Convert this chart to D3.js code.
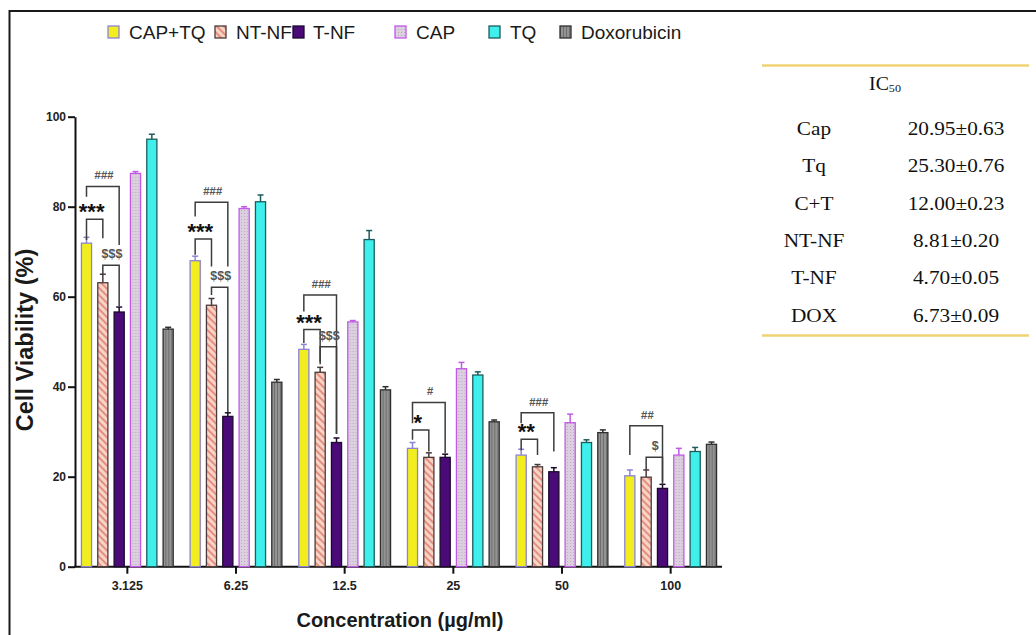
<!DOCTYPE html>
<html>
<head>
<meta charset="utf-8">
<script src="https://cdn.jsdelivr.net/npm/d3@7"></script>
<style>
  body { margin: 0; background: #fff; }
  svg { display: block; }
</style>
</head>
<body>
<script>
(() => {
  "use strict"

  // Data
  const concentrations = ['3.125', '6.25', '12.5', '25', '50', '100']
  const seriesNames = ['CAP+TQ', 'NT-NF', 'T-NF', 'CAP', 'TQ', 'Doxorubicin']

  const capTq  = [71.9, 68.0, 48.3, 26.3, 24.8, 20.2]
  const ntNf   = [63.1, 58.1, 43.2, 24.3, 22.2, 19.9]
  const tNf    = [56.6, 33.4, 27.6, 24.3, 21.1, 17.4]
  const cap    = [87.4, 79.6, 54.4, 44.0, 32.0, 24.8]
  const tq     = [95.0, 81.1, 72.7, 42.6, 27.6, 25.6]
  const dox    = [52.8, 41.0, 39.3, 32.2, 29.8, 27.2]

  const errCapTq = [1.3, 1.0, 1.1, 1.3, 1.3, 1.3]
  const errNtNf  = [1.9, 1.5, 1.1, 1.0, 0.5, 1.6]
  const errTNf   = [1.1, 0.8, 1.0, 0.7, 0.9, 0.9]
  const errCap   = [0.4, 0.4, 0.3, 1.4, 1.9, 1.5]
  const errTq    = [1.1, 1.5, 2.0, 0.7, 0.6, 0.9]
  const errDox   = [0.4, 0.6, 0.7, 0.4, 0.6, 0.5]

  const yTicks = [0, 20, 40, 60, 80, 100]

  // significance brackets: group, from series, to series, bracket top, left leg end, right leg end (all in % units)
  const brackets = [
    { g: 0, a: 0, b: 2, top: 84.5, l: 82.2, r: 71.5, label: '###' },
    { g: 0, a: 0, b: 1, top: 77.2, l: 72.6, r: 73.0, label: '***' },
    { g: 0, a: 1, b: 2, top: 67.0, l: 64.8, r: 57.9, label: '$$$' },
    { g: 1, a: 0, b: 2, top: 81.0, l: 77.8, r: 66.7, label: '###' },
    { g: 1, a: 0, b: 1, top: 72.8, l: 69.3, r: 66.7, label: '***' },
    { g: 1, a: 1, b: 2, top: 62.1, l: 60.4, r: 34.4, label: '$$$' },
    { g: 2, a: 0, b: 2, top: 60.4, l: 56.7, r: 29.5, label: '###' },
    { g: 2, a: 0, b: 1, top: 52.7, l: 49.7, r: 45.0, label: '***' },
    { g: 2, a: 1, b: 2, top: 48.9, l: 45.5, r: 29.5, label: '$$$' },
    { g: 3, a: 0, b: 2, top: 36.5, l: 31.9, r: 25.2, label: '#' },
    { g: 3, a: 0, b: 1, top: 30.4, l: 28.2, r: 25.6, label: '*' },
    { g: 4, a: 0, b: 2, top: 34.2, l: 31.9, r: 25.6, label: '###' },
    { g: 4, a: 0, b: 1, top: 28.3, l: 25.9, r: 24.8, label: '**' },
    { g: 5, a: 0, b: 2, top: 31.3, l: 24.8, r: 18.2, label: '##' },
    { g: 5, a: 1, b: 2, top: 24.3, l: 21.5, r: 18.9, label: '$' }
  ]

  const ic50Labels = ['Cap', 'Tq', 'C+T', 'NT-NF', 'T-NF', 'DOX']
  const ic50Values = ['20.95±0.63', '25.30±0.76', '12.00±0.23', '8.81±0.20', '4.70±0.05', '6.73±0.09']

  const values = [capTq, ntNf, tNf, cap, tq, dox]
  const errors = [errCapTq, errNtNf, errTNf, errCap, errTq, errDox]

  // Styles
  const sans = 'Liberation Sans, Arial, sans-serif'
  const serif = 'Liberation Serif, Times New Roman, serif'
  const fills = ['#f1ed1e', 'url(#hatch-pink)', '#4a0b78', 'url(#dots-lilac)', '#3eefec', 'url(#hatch-grey)']
  const strokes = ['#8b84d6', '#4a3a3a', '#1c0a2c', '#c159e6', '#1d5c5c', '#2e2e2e']

  const svg = d3.select('body').append('svg')
    .attr('width', 1036)
    .attr('height', 635)

  /****** PATTERNS ******/
  const defs = svg.append('defs')
  const pink = defs.append('pattern')
    .attr('id', 'hatch-pink')
    .attr('patternUnits', 'userSpaceOnUse')
    .attr('width', 5).attr('height', 5)
    .attr('patternTransform', 'rotate(-45)')
  pink.append('rect').attr('width', 5).attr('height', 5).attr('fill', '#f8d3c8')
  pink.append('rect').attr('width', 2).attr('height', 5).attr('fill', '#e58f7e')

  const lilac = defs.append('pattern')
    .attr('id', 'dots-lilac')
    .attr('patternUnits', 'userSpaceOnUse')
    .attr('width', 3).attr('height', 3)
  lilac.append('rect').attr('width', 3).attr('height', 3).attr('fill', '#dccfe0')
  lilac.append('rect').attr('width', 1).attr('height', 1).attr('fill', '#b8aebb')

  const grey = defs.append('pattern')
    .attr('id', 'hatch-grey')
    .attr('patternUnits', 'userSpaceOnUse')
    .attr('width', 3).attr('height', 3)
  grey.append('rect').attr('width', 3).attr('height', 3).attr('fill', '#939393')
  grey.append('rect').attr('width', 1).attr('height', 3).attr('fill', '#6f6f6f')

  /****** FRAME ******/
  svg.append('path')
    .attr('d', 'M9.5,635 V11 H1036')
    .attr('fill', 'none')
    .attr('stroke', '#1a1a1a')
    .attr('stroke-width', 2)

  /****** SCALES ******/
  const y = d3.scaleLinear().domain([0, 100]).range([566.7, 116.7])
  const x0 = d3.scaleBand().domain(concentrations).range([73, 725])
  const x1 = d3.scaleBand().domain(d3.range(seriesNames.length))
    .range([0, 98]).paddingInner(0.38).paddingOuter(0.19)
  const center = (gi, si) => x0(concentrations[gi]) + x0.bandwidth() / 2 - 49 + x1(si) + x1.bandwidth() / 2

  /****** AXES ******/
  const yAxis = svg.append('g')
    .attr('transform', 'translate(75,0)')
    .call(d3.axisLeft(y).tickValues(yTicks).tickSize(7).tickSizeOuter(0).tickPadding(2))
  yAxis.select('.domain').attr('stroke', '#111').attr('stroke-width', 2)
  yAxis.selectAll('.tick line').attr('stroke', '#111').attr('stroke-width', 2)
  yAxis.selectAll('.tick text')
    .attr('font-family', sans).attr('font-size', 12).attr('font-weight', 'bold').attr('fill', '#222')

  const xAxis = svg.append('g')
    .attr('transform', `translate(0,${y(0)})`)
    .call(d3.axisBottom(x0).tickSize(7).tickSizeOuter(0).tickPadding(7))
  xAxis.select('.domain').remove()
  xAxis.selectAll('.tick line').attr('stroke', '#111').attr('stroke-width', 2)
  xAxis.selectAll('.tick text')
    .attr('font-family', sans).attr('font-size', 12.5).attr('font-weight', 'bold').attr('fill', '#222')
  svg.append('line')
    .attr('x1', 74).attr('x2', 722)
    .attr('y1', y(0)).attr('y2', y(0))
    .attr('stroke', '#111').attr('stroke-width', 2)

  /****** BARS ******/
  const groups = svg.append('g').selectAll('g')
    .data(concentrations)
    .enter().append('g')
      .attr('transform', c => `translate(${x0(c) + x0.bandwidth() / 2 - 49},0)`)

  const cells = groups.selectAll('g')
    .data((c, gi) => values.map((v, si) => ({ si, v: v[gi], e: errors[si][gi] })))
    .enter().append('g')

  // error bars (upper only)
  cells.append('line')
    .attr('x1', d => x1(d.si) + x1.bandwidth() / 2)
    .attr('x2', d => x1(d.si) + x1.bandwidth() / 2)
    .attr('y1', d => y(d.v))
    .attr('y2', d => y(d.v + d.e))
    .attr('stroke', d => strokes[d.si]).attr('stroke-width', 1.5)
  cells.append('line')
    .attr('x1', d => x1(d.si) + x1.bandwidth() / 2 - 3)
    .attr('x2', d => x1(d.si) + x1.bandwidth() / 2 + 3)
    .attr('y1', d => y(d.v + d.e))
    .attr('y2', d => y(d.v + d.e))
    .attr('stroke', d => strokes[d.si]).attr('stroke-width', 1.5)

  cells.append('rect')
    .attr('x', d => x1(d.si))
    .attr('width', x1.bandwidth())
    .attr('y', d => y(d.v))
    .attr('height', d => y(0) - y(d.v))
    .attr('fill', d => fills[d.si])
    .attr('stroke', d => strokes[d.si])
    .attr('stroke-width', 1.3)

  /****** SIGNIFICANCE BRACKETS ******/
  const sig = svg.append('g')
  sig.selectAll('path')
    .data(brackets)
    .enter().append('path')
      .attr('d', b => {
        const xa = center(b.g, b.a), xb = center(b.g, b.b)
        return `M${xa},${y(b.l)} V${y(b.top)} H${xb} V${y(b.r)}`
      })
      .attr('fill', 'none')
      .attr('stroke', '#3c3c3c')
      .attr('stroke-width', 1.5)

  const isStar = b => b.label.includes('*')
  sig.selectAll('text')
    .data(brackets)
    .enter().append('text')
      .attr('x', b => (center(b.g, b.a) + center(b.g, b.b)) / 2 + (isStar(b) ? -3 : 1))
      .attr('y', b => isStar(b) ? y(b.top) : y(b.top) - 7)
      .attr('text-anchor', 'middle')
      .attr('font-family', sans)
      .attr('font-weight', 'bold')
      .attr('font-style', b => b.label.includes('#') ? 'italic' : 'normal')
      .attr('font-size', b => isStar(b) ? 22 : (b.label.includes('$') ? 12.5 : 11.5))
      .attr('fill', b => isStar(b) ? '#111' : '#555')
      .text(b => b.label)

  /****** AXIS TITLES ******/
  svg.append('text')
    .attr('transform', 'translate(33,340) rotate(-90)')
    .attr('text-anchor', 'middle')
    .attr('font-family', sans).attr('font-weight', 'bold').attr('font-size', 23.5)
    .attr('fill', '#1a1a1a')
    .text('Cell Viability (%)')
  svg.append('text')
    .attr('x', 400).attr('y', 627)
    .attr('text-anchor', 'middle')
    .attr('font-family', sans).attr('font-weight', 'bold').attr('font-size', 20)
    .attr('fill', '#1a1a1a')
    .text('Concentration (µg/ml)')

  /****** LEGEND ******/
  const legendX = [108, 215, 293, 395, 489, 560]
  const legend = svg.append('g').selectAll('g')
    .data(seriesNames)
    .enter().append('g')
      .attr('transform', (d, i) => `translate(${legendX[i]},26)`)
  legend.append('rect')
    .attr('width', 11).attr('height', 12)
    .attr('fill', (d, i) => fills[i])
    .attr('stroke', (d, i) => strokes[i])
    .attr('stroke-width', 1.3)
  legend.append('text')
    .attr('x', (d, i) => i === 2 ? 20 : 21)
    .attr('y', 13)
    .attr('font-family', sans).attr('font-size', 19)
    .attr('fill', '#1a1a1a')
    .text(d => d)

  /****** IC50 TABLE ******/
  const table = svg.append('g')
  table.selectAll('line')
    .data([65.5, 335.5])
    .enter().append('line')
      .attr('x1', 762).attr('x2', 1029)
      .attr('y1', d => d).attr('y2', d => d)
      .attr('stroke', '#f1d272').attr('stroke-width', 2.5)

  const ic50Title = table.append('text')
    .attr('transform', 'translate(885,90) scale(1.1,1)')
    .attr('text-anchor', 'middle')
    .attr('font-family', serif).attr('font-size', 18).attr('fill', '#111')
  ic50Title.append('tspan').text('IC')
  ic50Title.append('tspan').attr('font-size', 11).attr('dy', 2).text('50')

  const rowY = d3.scalePoint().domain(ic50Labels).range([135, 321.6])
  table.selectAll('.ic-label')
    .data(ic50Labels)
    .enter().append('text')
      .attr('class', 'ic-label')
      .attr('transform', d => `translate(814,${rowY(d)}) scale(1.12,1)`)
      .attr('text-anchor', 'middle')
      .attr('font-family', serif).attr('font-size', 19).attr('fill', '#111')
      .text(d => d)
  table.selectAll('.ic-value')
    .data(ic50Values)
    .enter().append('text')
      .attr('class', 'ic-value')
      .attr('transform', (d, i) => `translate(956,${rowY(ic50Labels[i])}) scale(1.12,1)`)
      .attr('text-anchor', 'middle')
      .attr('font-family', serif).attr('font-size', 19).attr('fill', '#111')
      .text(d => d)
})()
</script>
</body>
</html>
